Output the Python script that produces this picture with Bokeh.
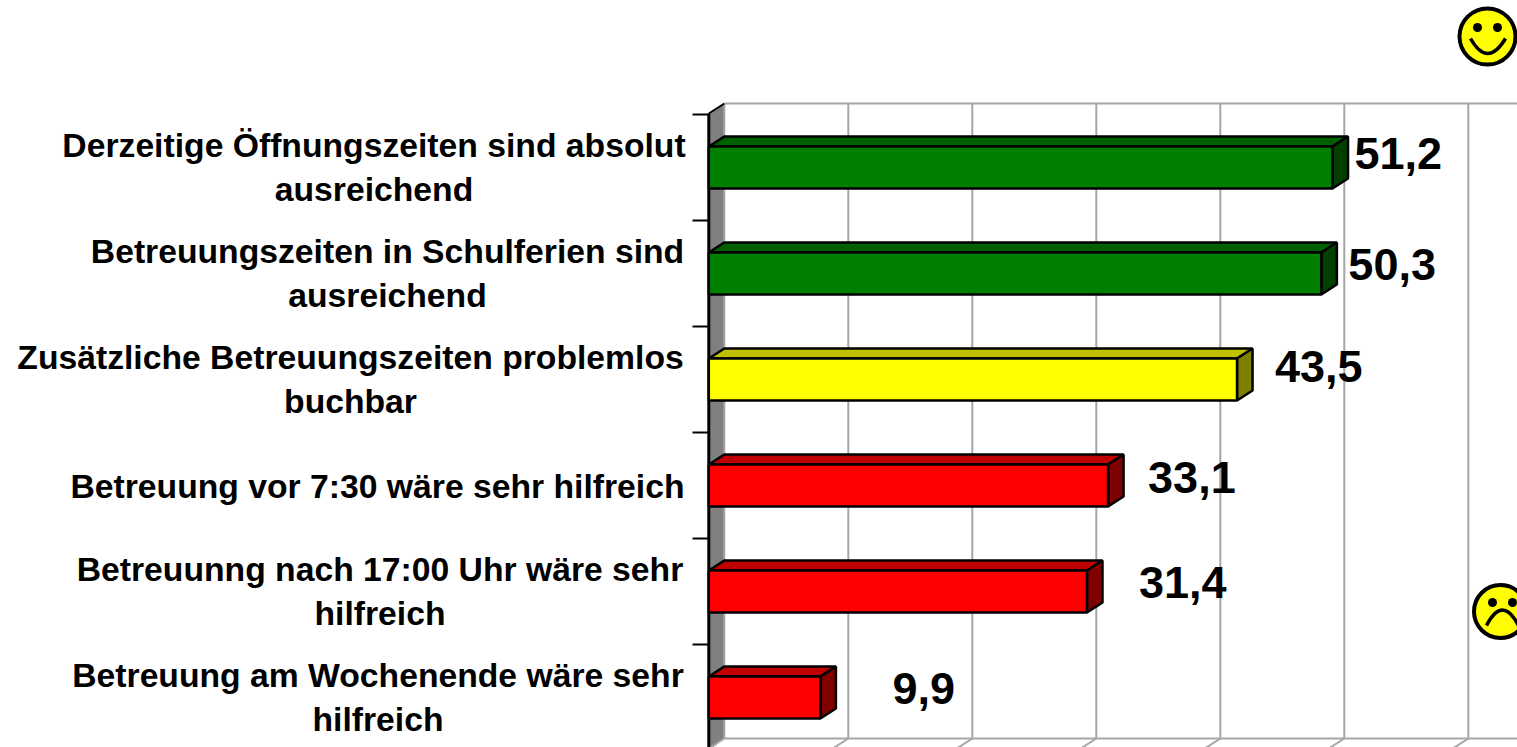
from bokeh.plotting import figure
from bokeh.embed import file_html
from bokeh.resources import INLINE
from bokeh.models import Range1d
from bokeh.core.properties import value as V
import numpy as np

label_lines = [
    ["Derzeitige Öffnungszeiten sind absolut", "ausreichend"],
    ["Betreuungszeiten in Schulferien sind", "ausreichend"],
    ["Zusätzliche Betreuungszeiten problemlos", "buchbar"],
    ["Betreuung vor 7:30 wäre sehr hilfreich"],
    ["Betreuunng nach 17:00 Uhr wäre sehr", "hilfreich"],
    ["Betreuung am Wochenende wäre sehr", "hilfreich"],
]
values = [51.2, 50.3, 43.5, 33.1, 31.4, 9.9]
value_labels = ["51,2", "50,3", "43,5", "33,1", "31,4", "9,9"]
front = ["#008000", "#008000", "#ffff00", "#ff0000", "#ff0000", "#ff0000"]
top = ["#006000", "#006000", "#c0c000", "#c00000", "#c00000", "#c00000"]
side = ["#004000", "#004000", "#808000", "#800000", "#800000", "#800000"]

# layout constants (reference pixels)
W, H = 1517, 747
M = 0
PXU = 12.4
AX0 = 708.3
FLOOR = 0.9
BAND = 106.0
Y0 = 167.0
DX, DY = 15.5, 10
HALF = 21
label_cx = [373.5, 387, 350, 377, 379.5, 377.5]
val_dx = [22, 27, 38, 40, 52, 72]
val_dy = [-14, -9, -13, -8, -9, -9]

xr = Range1d(FLOOR + (M - AX0) / PXU, FLOOR + (W - AX0) / PXU)
yr = Range1d((H - Y0) / BAND, (M - Y0) / BAND)
p = figure(width=W - M, height=H - M, x_range=xr, y_range=yr, toolbar_location=None,
           output_backend="svg", min_border=0, outline_line_color=None,
           background_fill_color="white", border_fill_color="white")
p.axis.visible = False
p.grid.visible = False

X = lambda px: FLOOR + (np.asarray(px, float) - AX0) / PXU
Y = lambda py: (np.asarray(py, float) - Y0) / BAND
ddx, ddy = DX / PXU, DY / BAND
hh = HALF / BAND

GRID = "#a6a6a6"
TOPY, BOTY = 103, 738
# wall
p.patch(X([AX0, AX0 + DX, AX0 + DX, AX0]), Y([TOPY + DY, TOPY, BOTY, BOTY + DY + 2]),
        fill_color="#808080", line_color=None)
# grid
ticks = [FLOOR + 10 * k for k in range(7)]
for t in ticks:
    p.line([t + ddx, t + ddx], Y([TOPY, BOTY]), line_color=GRID, line_width=2)
for t in ticks[1:]:
    p.line([t + ddx, t], [Y(BOTY), Y(BOTY) + ddy], line_color=GRID, line_width=2)
p.line(X([AX0 + DX, W]), Y([TOPY, TOPY]), line_color=GRID, line_width=2)
p.line(X([AX0 + DX, W]), Y([BOTY, BOTY]), line_color=GRID, line_width=2)
p.line(X([AX0 + DX, AX0]), Y([BOTY, BOTY + DY]), line_color=GRID, line_width=2)

# axis line and category ticks
p.line([FLOOR, FLOOR], Y([TOPY + DY, H]), line_color="black", line_width=3)
p.line(X([AX0, AX0 + DX]), Y([TOPY + DY, TOPY]), line_color="black", line_width=2)
for i in range(len(values)):
    yy = i - 0.5
    p.line(X([692, AX0]), [yy, yy], line_color="black", line_width=2)

# bars
for i, v in enumerate(values):
    p.patch([FLOOR, v, v + ddx, FLOOR + ddx], [i - hh, i - hh, i - hh - ddy, i - hh - ddy],
            fill_color=top[i], line_color="black", line_width=2.5)
    p.patch([v, v + ddx, v + ddx, v], [i - hh, i - hh - ddy, i + hh - ddy, i + hh],
            fill_color=side[i], line_color="black", line_width=2.5)
    p.patch([FLOOR, v, v, FLOOR], [i - hh, i - hh, i + hh, i + hh],
            fill_color=front[i], line_color="black", line_width=2.5)

# category labels
for i, lines in enumerate(label_lines):
    n = len(lines)
    for j, s in enumerate(lines):
        yy = Y0 + BAND * i + ((j - 0.5) * 44 - 1 if n == 2 else 0)
        p.text([X(label_cx[i])], [Y(yy)], text=[s], text_font=V("Liberation Sans"),
               text_font_style="bold", text_font_size="33.7px", text_color="black",
               text_align="center", text_baseline="middle")

# value labels
for i, v in enumerate(values):
    p.text([v], [i], text=[value_labels[i]], x_offset=val_dx[i], y_offset=val_dy[i],
           text_font=V("Liberation Sans"), text_font_style="bold", text_font_size="45px",
           text_color="black", text_align="left", text_baseline="middle")

# smileys
def eye(px, py, d):
    p.scatter(X([px]), Y([py]), size=d, marker="circle", fill_color="black", line_color=None)

p.scatter(X([1487]), Y([36]), size=56, marker="circle", fill_color="#ffff00", line_color="black", line_width=4)
eye(1477, 27, 9); eye(1497, 27, 9)
p.quadratic(x0=X([1470]), y0=Y([38]), x1=X([1505]), y1=Y([38]), cx=X([1487]), cy=Y([68]),
            line_color="black", line_width=3.5)

p.scatter(X([1500]), Y([611]), size=53, marker="circle", fill_color="#ffff00", line_color="black", line_width=4)
eye(1492, 602, 9); eye(1512, 602, 9)
p.quadratic(x0=X([1486]), y0=Y([625]), x1=X([1518]), y1=Y([625]), cx=X([1502]), cy=Y([594]),
            line_color="black", line_width=3.5)

open("out.html", "w").write(file_html(p, INLINE))
